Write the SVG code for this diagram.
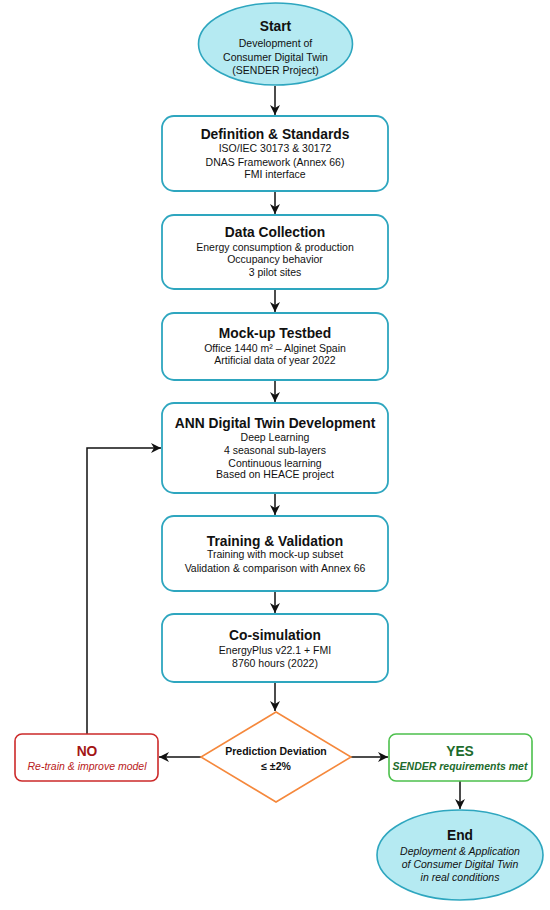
<svg xmlns="http://www.w3.org/2000/svg" width="550" height="910" viewBox="0 0 550 910">
<style>
text{font-family:"Liberation Sans",Arial,sans-serif;text-anchor:middle;fill:#111}
.t{font-weight:bold;font-size:13.8px}
.b{font-size:10.5px}
.ell{fill:#b5eaf2;stroke:#2ea6bf;stroke-width:1.6}
.box{fill:#fff;stroke:#2ea6bf;stroke-width:1.8}
.c{fill:none;stroke:#111;stroke-width:1.5}
</style>
<defs>
<marker id="ah" viewBox="0 0 10 10" refX="10" refY="5" markerWidth="10" markerHeight="10" markerUnits="userSpaceOnUse" orient="auto">
<path d="M0,0 L10,5 L0,10 L3,5 z" fill="#111"/>
</marker>
</defs>
<rect width="550" height="910" fill="#fff"/>
<g id="connectors">
<line class="c" x1="275" y1="86" x2="275" y2="115" marker-end="url(#ah)"/>
<line class="c" x1="275" y1="191" x2="275" y2="214" marker-end="url(#ah)"/>
<line class="c" x1="275" y1="289" x2="275" y2="312" marker-end="url(#ah)"/>
<line class="c" x1="275" y1="380" x2="275" y2="402" marker-end="url(#ah)"/>
<line class="c" x1="275" y1="493" x2="275" y2="515" marker-end="url(#ah)"/>
<line class="c" x1="275" y1="591" x2="275" y2="613" marker-end="url(#ah)"/>
<line class="c" x1="275" y1="682" x2="275" y2="711" marker-end="url(#ah)"/>
<line class="c" x1="201" y1="757" x2="159" y2="757" marker-end="url(#ah)"/>
<line class="c" x1="351" y1="757" x2="388" y2="757" marker-end="url(#ah)"/>
<line class="c" x1="460" y1="781" x2="460" y2="809" marker-end="url(#ah)"/>
<polyline class="c" points="87,734 87,448 161,448" marker-end="url(#ah)"/>
</g>
<g id="start">
<ellipse class="ell" cx="275.5" cy="44" rx="77" ry="41"/>
<text class="t" x="275.5" y="31">Start</text>
<text class="b" x="275.5" y="46.5">Development of</text>
<text class="b" x="275.5" y="60.5">Consumer Digital Twin</text>
<text class="b" x="275.5" y="74">(SENDER Project)</text>
</g>
<g id="definition">
<rect class="box" x="162" y="116" width="226" height="75" rx="12"/>
<text class="t" x="275" y="139">Definition &amp; Standards</text>
<text class="b" x="275" y="152">ISO/IEC 30173 &amp; 30172</text>
<text class="b" x="275" y="165.5">DNAS Framework (Annex 66)</text>
<text class="b" x="275" y="178">FMI interface</text>
</g>
<g id="data">
<rect class="box" x="162" y="215" width="226" height="74" rx="12"/>
<text class="t" x="275" y="236.5">Data Collection</text>
<text class="b" x="275" y="250.5">Energy consumption &amp; production</text>
<text class="b" x="275" y="263">Occupancy behavior</text>
<text class="b" x="275" y="275.5">3 pilot sites</text>
</g>
<g id="mockup">
<rect class="box" x="162" y="313" width="226" height="67" rx="12"/>
<text class="t" x="275" y="337.5">Mock-up Testbed</text>
<text class="b" x="275" y="351.5">Office 1440 m² – Alginet Spain</text>
<text class="b" x="275" y="364">Artificial data of year 2022</text>
</g>
<g id="ann">
<rect class="box" x="162" y="403" width="226" height="90" rx="12"/>
<text class="t" x="275" y="427.5">ANN Digital Twin Development</text>
<text class="b" x="275" y="440.5">Deep Learning</text>
<text class="b" x="275" y="453.5">4 seasonal sub-layers</text>
<text class="b" x="275" y="466.5">Continuous learning</text>
<text class="b" x="275" y="478">Based on HEACE project</text>
</g>
<g id="training">
<rect class="box" x="162" y="516" width="226" height="75" rx="12"/>
<text class="t" x="275" y="545.5">Training &amp; Validation</text>
<text class="b" x="275" y="558">Training with mock-up subset</text>
<text class="b" x="275" y="571.5">Validation &amp; comparison with Annex 66</text>
</g>
<g id="cosim">
<rect class="box" x="162" y="614" width="226" height="68" rx="12"/>
<text class="t" x="275" y="640">Co-simulation</text>
<text class="b" x="275" y="654">EnergyPlus v22.1 + FMI</text>
<text class="b" x="275" y="666.5">8760 hours (2022)</text>
</g>
<g id="decision">
<polygon points="276,712 351,757 276,802 201,757" fill="#fff" stroke="#f5883c" stroke-width="1.6"/>
<text class="b" x="276" y="755" font-weight="bold">Prediction Deviation</text>
<text class="b" x="276" y="769.5" font-weight="bold">≤ ±2%</text>
</g>
<g id="no">
<rect x="15" y="734" width="143" height="47" rx="7" fill="#fff" stroke="#cc2a2a" stroke-width="1.6"/>
<text class="t" x="87" y="756" style="fill:#a31515">NO</text>
<text class="b" x="87" y="769.5" font-style="italic" style="fill:#b82020">Re-train &amp; improve model</text>
</g>
<g id="yes">
<rect x="389" y="734" width="143" height="47" rx="7" fill="#fff" stroke="#4cc04c" stroke-width="1.6"/>
<text class="t" x="460" y="756" style="fill:#1d6b2c">YES</text>
<text class="b" x="460" y="769.5" font-weight="bold" font-style="italic" style="fill:#1d6b2c">SENDER requirements met</text>
</g>
<g id="end">
<ellipse class="ell" cx="460" cy="855" rx="83" ry="45"/>
<text class="t" x="460" y="840">End</text>
<text class="b" x="460" y="854.5" font-style="italic">Deployment &amp; Application</text>
<text class="b" x="460" y="867.5" font-style="italic">of Consumer Digital Twin</text>
<text class="b" x="460" y="881" font-style="italic">in real conditions</text>
</g>
</svg>
